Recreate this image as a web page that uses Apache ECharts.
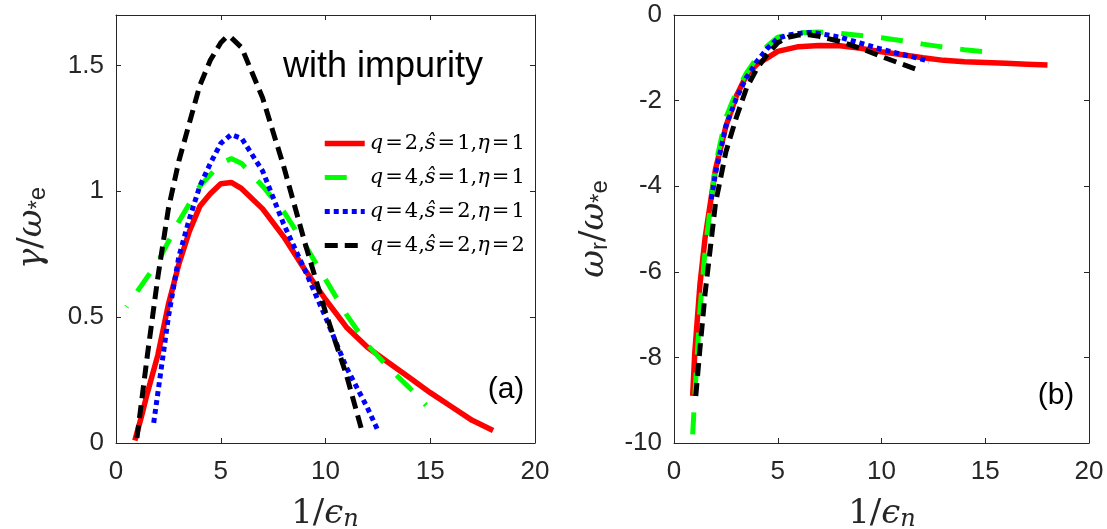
<!DOCTYPE html>
<html><head><meta charset="utf-8">
<script src="https://cdn.jsdelivr.net/npm/echarts@6/dist/echarts.min.js"></script>
<style>html,body{margin:0;padding:0;background:#fff}#c{width:1107px;height:529px}</style>
</head><body><div id="c"></div>
<script>
// ---------- data ----------
const seriesNames = ['q=2,ŝ=1,η=1', 'q=4,ŝ=1,η=1', 'q=4,ŝ=2,η=1', 'q=4,ŝ=2,η=2'];
const xTickValues = [0, 5, 10, 15, 20];
const gammaTicks = [0, 0.5, 1, 1.5];
const omegaTicks = [-10, -8, -6, -4, -2, 0];

// panel (a): growth rate gamma / omega*e
const redXa   = [0.9, 1.2, 1.5, 2, 2.5, 3, 3.5, 4, 4.5, 5, 5.5, 6, 7, 8, 9, 10, 11, 12, 13, 14, 15, 16, 17, 18];
const redGam  = [0.01, 0.10, 0.20, 0.35, 0.55, 0.71, 0.84, 0.94, 0.99, 1.03, 1.035, 1.01, 0.93, 0.82, 0.69, 0.57, 0.46, 0.38, 0.32, 0.26, 0.20, 0.145, 0.09, 0.05];
const greenXa = [0.5, 1, 2, 3, 4, 5, 5.5, 6, 7, 8, 9, 10, 11, 12, 13, 14, 14.8];
const greenGam= [0.54, 0.60, 0.72, 0.88, 1.02, 1.11, 1.13, 1.11, 1.02, 0.92, 0.79, 0.65, 0.51, 0.39, 0.30, 0.22, 0.15];
const blueXa  = [1.8, 2, 2.5, 3, 3.5, 4, 4.5, 5, 5.5, 6, 7, 8, 9, 10, 11, 12, 12.5];
const blueGam = [0.08, 0.20, 0.50, 0.74, 0.89, 1.02, 1.11, 1.19, 1.225, 1.21, 1.08, 0.87, 0.69, 0.50, 0.30, 0.14, 0.05];
const blackXa = [1, 1.5, 2, 2.5, 3, 3.5, 4, 4.5, 5, 5.3, 5.5, 6, 7, 8, 9, 10, 11, 11.7];
const blackGam= [0.02, 0.35, 0.66, 0.93, 1.12, 1.27, 1.42, 1.52, 1.59, 1.615, 1.61, 1.57, 1.37, 1.10, 0.80, 0.52, 0.27, 0.06];

// panel (b): real frequency omega_r / omega*e
const redXb   = [0.9, 1, 1.25, 1.5, 2, 2.5, 3, 3.5, 4, 4.5, 5, 6, 7, 8, 9, 10, 11, 12, 13, 14, 15, 16, 17, 18];
const redOm   = [-8.9, -7.9, -6.3, -5.2, -3.6, -2.6, -1.9, -1.4, -1.15, -1.0, -0.85, -0.74, -0.71, -0.72, -0.78, -0.86, -0.93, -1.0, -1.06, -1.09, -1.11, -1.13, -1.15, -1.17];
const greenXb = [0.9, 1, 1.25, 1.5, 2, 2.5, 3, 3.5, 4, 4.5, 5, 6, 7, 8, 9, 10, 11, 12, 13, 14, 15, 15.4];
const greenOm = [-9.8, -8.9, -6.9, -5.5, -3.5, -2.4, -1.8, -1.35, -1.0, -0.72, -0.52, -0.42, -0.40, -0.43, -0.48, -0.53, -0.60, -0.68, -0.75, -0.81, -0.86, -0.88];
const blueXb  = [1.8, 2, 2.5, 3, 3.5, 4, 4.5, 5, 5.5, 6, 6.5, 7, 8, 9, 10, 11, 12, 12.3];
const blueOm  = [-4.3, -3.7, -2.6, -1.95, -1.45, -1.08, -0.78, -0.55, -0.47, -0.43, -0.41, -0.43, -0.52, -0.66, -0.80, -0.92, -1.04, -1.08];
const blackXb = [1.05, 1.25, 1.5, 2, 2.5, 3, 3.5, 4, 4.5, 5, 5.5, 6, 6.5, 7, 8, 9, 10, 11, 11.7];
const blackOm = [-8.9, -7.8, -6.5, -4.4, -3.2, -2.4, -1.7, -1.25, -0.92, -0.65, -0.52, -0.47, -0.46, -0.50, -0.62, -0.78, -0.97, -1.15, -1.27];

// ---------- styles ----------
const colors = ['#ff0000', '#00ff00', '#0000ff', '#000000'];
const widths = [5.5, 5, 5, 5];
const dashes = ['solid', [22, 18], [5, 4], [13, 7]];
const dashOffsetsA = [0, 21, 0, 0];
const axisColor = '#262626';
const tickFont = 'Liberation Sans, Arial, sans-serif';

function pairs(xs, ys) { return xs.map((x, i) => [x, ys[i]]); }

const panelA = [[redXa, redGam], [greenXa, greenGam], [blueXa, blueGam], [blackXa, blackGam]];
const panelB = [[redXb, redOm], [greenXb, greenOm], [blueXb, blueOm], [blackXb, blackOm]];

function mkX(grid, pos, labels) {
  return {
    type: 'value', gridIndex: grid, position: pos, min: 0, max: 20, interval: 5,
    axisLine: { show: true, onZero: false, lineStyle: { color: axisColor, width: 1 } },
    axisTick: { show: true, inside: true, length: 5, lineStyle: { color: axisColor } },
    axisLabel: { show: labels, fontSize: 26, fontFamily: tickFont, color: axisColor, margin: 16 },
    splitLine: { show: false }
  };
}
function mkY(grid, pos, labels, min, max, interval) {
  return {
    type: 'value', gridIndex: grid, position: pos, min: min, max: max, interval: interval,
    axisLine: { show: true, onZero: false, lineStyle: { color: axisColor, width: 1 } },
    axisTick: { show: true, inside: true, length: 5, lineStyle: { color: axisColor } },
    axisLabel: { show: labels, fontSize: 26, fontFamily: tickFont, color: axisColor, margin: 12, showMaxLabel: max === 0 },
    splitLine: { show: false }
  };
}

const series = [];
panelA.forEach((p, i) => series.push({
  name: seriesNames[i], type: 'line', xAxisIndex: 0, yAxisIndex: 0,
  data: pairs(p[0], p[1]), symbol: 'none', showSymbol: false, animation: false,
  lineStyle: { color: colors[i], width: widths[i], type: dashes[i], dashOffset: dashOffsetsA[i], cap: 'butt' },
  itemStyle: { color: colors[i] }
}));
panelB.forEach((p, i) => series.push({
  name: seriesNames[i], type: 'line', xAxisIndex: 2, yAxisIndex: 2,
  data: pairs(p[0], p[1]), symbol: 'none', showSymbol: false, animation: false,
  lineStyle: { color: colors[i], width: widths[i], type: dashes[i], cap: 'butt' },
  itemStyle: { color: colors[i] }
}));

const serif = 'DejaVu Serif, Liberation Serif, serif';
function legendFmt(name) {
  let out = '';
  for (const ch of name) {
    if (ch === 'q' || ch === 'ŝ' || ch === 'η') out += '{i|' + ch + '}';
    else if (ch === '=') out += '{e|=}';
    else out += '{r|' + ch + '}';
  }
  return out;
}

const chart = echarts.init(document.getElementById('c'), null, { renderer: 'canvas' });
chart.setOption({
  backgroundColor: '#ffffff',
  animation: false,
  grid: [
    { left: 116, top: 15, width: 419, height: 428 },
    { left: 674, top: 15, width: 415, height: 428 }
  ],
  xAxis: [mkX(0, 'bottom', true), mkX(0, 'top', false), mkX(1, 'bottom', true), mkX(1, 'top', false)],
  yAxis: [
    mkY(0, 'left', true, 0, 1.7, 0.5), mkY(0, 'right', false, 0, 1.7, 0.5),
    mkY(1, 'left', true, -10, 0, 2), mkY(1, 'right', false, -10, 0, 2)
  ],
  legend: {
    data: seriesNames, orient: 'vertical', left: 322, top: 133, padding: 0,
    itemWidth: 40, itemHeight: 20, itemGap: 13,
    itemStyle: { opacity: 0 },
    lineStyle: { width: 'inherit', type: 'inherit', dashOffset: 0 },
    formatter: legendFmt,
    textStyle: {
      color: '#000', fontSize: 21, fontFamily: serif, lineHeight: 20,
      rich: {
        i: { fontSize: 21, fontFamily: serif, fontStyle: 'italic', color: '#000', lineHeight: 20 },
        r: { fontSize: 21, fontFamily: serif, color: '#000', lineHeight: 20 },
        e: { fontSize: 21, fontFamily: serif, color: '#000', lineHeight: 20, padding: [0, 2, 0, 2] }
      }
    }
  },
  series: series,
  graphic: [
    { type: 'text', x: 283, y: 67, style: { text: 'with impurity', font: '36px Liberation Sans, Arial, sans-serif', fill: '#000', align: 'left', verticalAlign: 'middle' } },
    { type: 'text', x: 506, y: 390, style: { text: '(a)', font: '30px Liberation Sans, Arial, sans-serif', fill: '#000', align: 'center', verticalAlign: 'middle' } },
    { type: 'text', x: 1056, y: 396, style: { text: '(b)', font: '30px Liberation Sans, Arial, sans-serif', fill: '#000', align: 'center', verticalAlign: 'middle' } },
    { type: 'text', x: 32, y: 228, rotation: Math.PI / 2,
      style: { text: '{g|γ}{s|/}{g|ω}{sub|*e}', align: 'center', verticalAlign: 'middle', fill: axisColor,
        rich: {
          g: { font: 'italic 34px ' + serif, fill: axisColor, lineHeight: 36 },
          s: { font: '34px ' + serif, fill: axisColor, lineHeight: 36 },
          sub: { font: '24px Liberation Sans, Arial, sans-serif', fill: axisColor, lineHeight: 18, verticalAlign: 'bottom' }
        } } },
    { type: 'text', x: 594, y: 229, rotation: Math.PI / 2,
      style: { text: '{g|ω}{sub|r}{s|/}{g|ω}{sub|*e}', align: 'center', verticalAlign: 'middle', fill: axisColor,
        rich: {
          g: { font: 'italic 34px ' + serif, fill: axisColor, lineHeight: 36 },
          s: { font: '34px ' + serif, fill: axisColor, lineHeight: 36 },
          sub: { font: '24px Liberation Sans, Arial, sans-serif', fill: axisColor, lineHeight: 18, verticalAlign: 'bottom' }
        } } },
    { type: 'text', x: 325, y: 514,
      style: { text: '{r|1/}{i|ϵ}{sub|n}', align: 'center', verticalAlign: 'middle', fill: axisColor,
        rich: {
          r: { font: '34px ' + serif, fill: axisColor, lineHeight: 36 },
          i: { font: 'italic 34px ' + serif, fill: axisColor, lineHeight: 36 },
          sub: { font: 'italic 24px ' + serif, fill: axisColor, lineHeight: 20, verticalAlign: 'bottom' }
        } } },
    { type: 'text', x: 882, y: 514,
      style: { text: '{r|1/}{i|ϵ}{sub|n}', align: 'center', verticalAlign: 'middle', fill: axisColor,
        rich: {
          r: { font: '34px ' + serif, fill: axisColor, lineHeight: 36 },
          i: { font: 'italic 34px ' + serif, fill: axisColor, lineHeight: 36 },
          sub: { font: 'italic 24px ' + serif, fill: axisColor, lineHeight: 20, verticalAlign: 'bottom' }
        } } }
  ]
});
</script>
</body></html>
